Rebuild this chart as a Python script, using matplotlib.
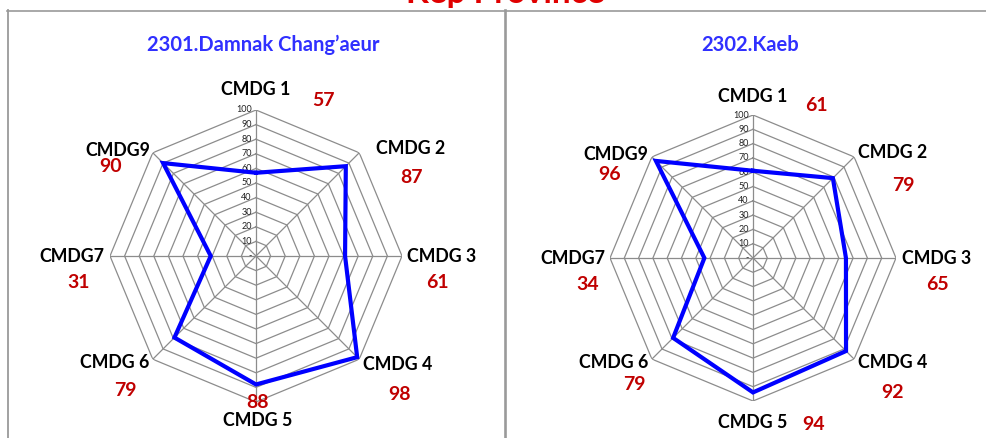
import matplotlib
matplotlib.use("Agg")
import matplotlib.pyplot as plt
import numpy as np
from matplotlib.lines import Line2D

# Indicator axes (no CMDG 8 in this set)
categories = ["CMDG 1", "CMDG 2", "CMDG 3", "CMDG 4", "CMDG 5", "CMDG 6", "CMDG7", "CMDG9"]
district_names = ["2301.Damnak Chang\u2019aeur", "2302.Kaeb"]
damnak_values = [57, 87, 61, 98, 88, 79, 31, 90]
kaeb_values = [61, 79, 65, 92, 94, 79, 34, 96]
ring_levels = [0, 10, 20, 30, 40, 50, 60, 70, 80, 90, 100]
ring_labels = ["-", "10", "20", "30", "40", "50", "60", "70", "80", "90", "100"]
province_title = "Kep Province"

W, H = 987, 438
fig = plt.figure(figsize=(W / 100, H / 100), dpi=100)
plt.rcParams["font.family"] = ["Lato", "DejaVu Sans"]

GRID = "#8c8c8c"
LINE = "#0000ff"
VALUE = "#c00000"
TITLE = "#3030ff"


def fpos(x, y):
    """Pixel position (from top-left) to figure fraction."""
    return x / W, 1 - y / H


def radar(center, radius, values, title, title_xy, label_off, value_off):
    cx, cy = center
    ax = fig.add_axes([(cx - radius) / W, 1 - (cy + radius) / H,
                       2 * radius / W, 2 * radius / H], projection="polar")
    ax.set_theta_zero_location("N")
    ax.set_theta_direction(-1)
    ax.set_ylim(0, 100)
    ax.set_axis_off()

    n = len(categories)
    angles = np.arange(n) * 2 * np.pi / n
    closed = np.append(angles, angles[0])

    for lvl in ring_levels[1:]:
        ax.plot(closed, [lvl] * (n + 1), color=GRID, lw=0.9, zorder=1)
    for a in angles:
        ax.plot([a, a], [0, ring_levels[-1]], color=GRID, lw=0.9, zorder=1)
    for lvl, lab in zip(ring_levels, ring_labels):
        ax.annotate(lab, xy=(0, lvl), xytext=(-3, 0), textcoords="offset points",
                    ha="right", va="center", fontsize=6.5, color="#222222",
                    annotation_clip=False)

    vals = list(values) + [values[0]]
    ax.plot(closed, vals, color=LINE, lw=3.0, zorder=3, solid_joinstyle="miter")

    for cat, v, (lx, ly), (vx, vy) in zip(categories, values, label_off, value_off):
        fig.text(*fpos(cx + lx, cy + ly), cat, ha="center", va="center",
                 fontsize=12.8, fontweight="bold", color="black")
        fig.text(*fpos(cx + vx, cy + vy), f"{v}", ha="center", va="center",
                 fontsize=14, fontweight="bold", color=VALUE)

    fig.text(*fpos(*title_xy), title, ha="center", va="center",
             fontsize=14.5, fontweight="bold", color=TITLE)


radar((256, 256), 146, damnak_values, district_names[0], (263, 45),
      [(0, -166), (155, -108), (186, 1), (142, 109), (2, 164), (-141, 107), (-184, 1), (-138, -106)],
      [(67, -156), (156, -78), (181, 27), (144, 139), (2, 146), (-131, 135), (-177, 26), (-145, -90)])

radar((753, 258), 143, kaeb_values, district_names[1], (750, 45),
      [(0, -162), (140, -105), (184, 1), (140, 104), (0, 164), (-139, 104), (-180, 1), (-137, -103)],
      [(63, -152), (150, -72), (184, 26), (140, 135), (61, 166), (-119, 127), (-165, 26), (-143, -83)])

# Province heading, mostly above the top edge
fig.text(*fpos(505, 3), province_title, ha="center", va="baseline",
         fontsize=24, fontweight="bold", color="#e00000")

# Frame lines around the two panels
frame = "#9a9a9a"
fig.add_artist(Line2D([7 / W, 1], [1 - 10.5 / H] * 2, transform=fig.transFigure, color=frame, lw=1.2))
fig.add_artist(Line2D([8 / W] * 2, [0, 1 - 10 / H], transform=fig.transFigure, color=frame, lw=1.3))
fig.add_artist(Line2D([504.5 / W] * 2, [0, 1 - 10 / H], transform=fig.transFigure, color=frame, lw=1.9))

fig.savefig("out.png", dpi=100, facecolor="white")
